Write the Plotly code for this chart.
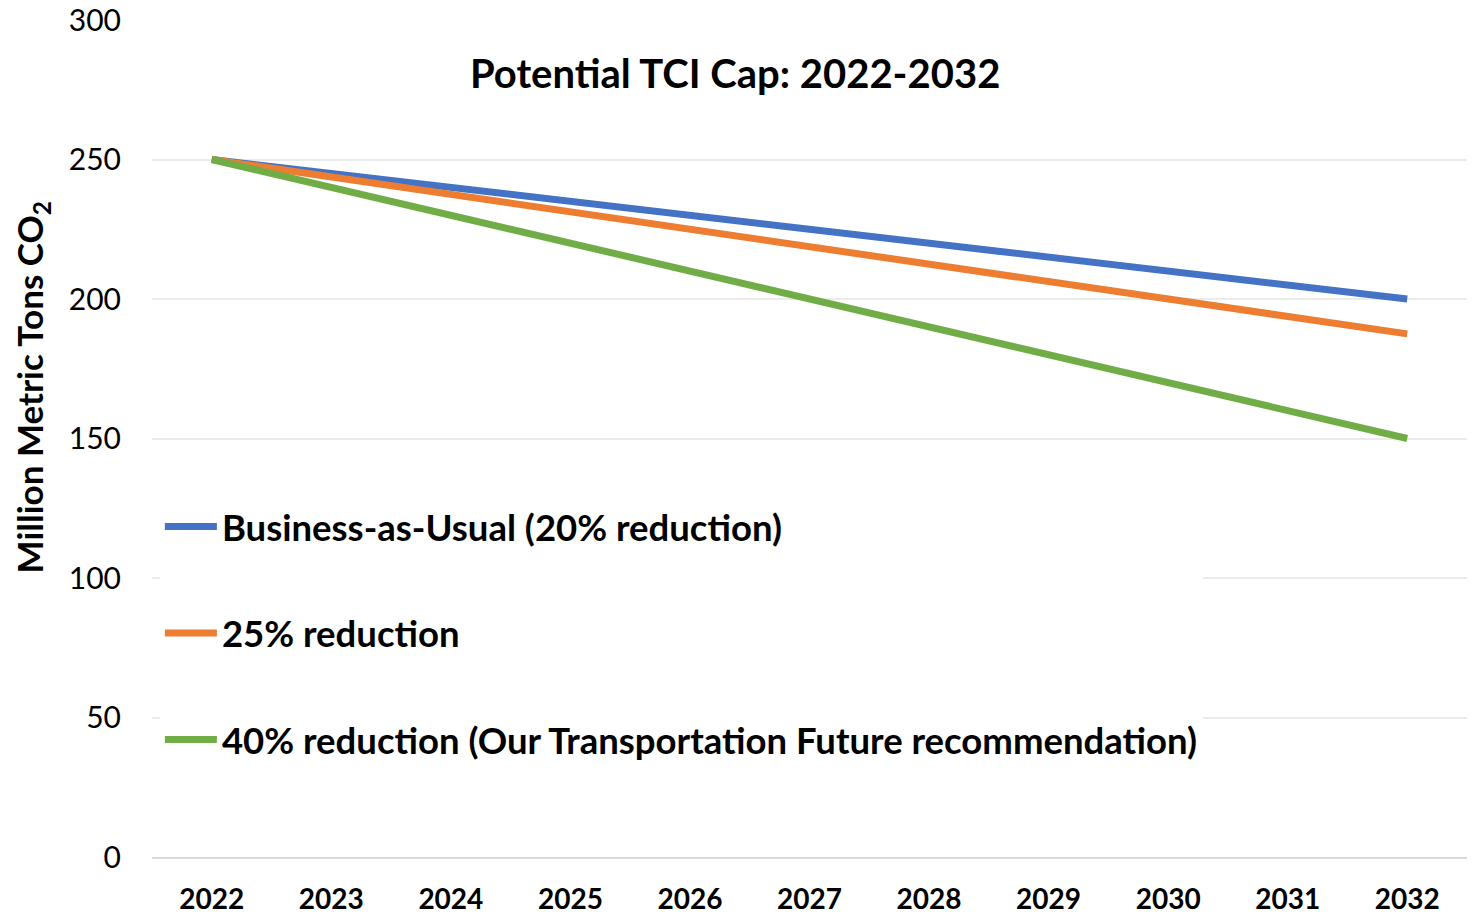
import plotly.graph_objects as go

years = [str(y) for y in range(2022, 2033)]
bau = [250, 245, 240, 235, 230, 225, 220, 215, 210, 205, 200]
red25 = [250, 243.75, 237.5, 231.25, 225, 218.75, 212.5, 206.25, 200, 193.75, 187.5]
red40 = [250, 240, 230, 220, 210, 200, 190, 180, 170, 160, 150]
names = ["Business-as-Usual (20% reduction)", "25% reduction",
         "40% reduction (Our Transportation Future recommendation)"]
colors = ["#4472C4", "#ED7D31", "#70AD47"]

FONT = "Lato"
fig = go.Figure()
for i, (vals, nm, c) in enumerate(zip([bau, red25, red40], names, colors)):
    fig.add_trace(go.Scatter(x=years, y=vals, mode="lines", name=nm,
                             legendgroup=f"g{i}",
                             line=dict(color=c, width=7)))

fig.update_layout(
    width=1476, height=915,
    margin=dict(l=152, r=9, t=20, b=58),
    plot_bgcolor="white", paper_bgcolor="white",
    font=dict(family=FONT, color="black"),
    showlegend=True,
    legend=dict(x=0.006, y=0.431, xanchor="left", yanchor="top",
                bgcolor="white", traceorder="grouped", tracegroupgap=56,
                itemwidth=52,
                font=dict(family=FONT, size=36.5, color="black", weight="bold")),
    xaxis=dict(type="category", range=[-0.5, 10.5], showgrid=False, zeroline=False,
               showline=True, linecolor="#d9d9d9", linewidth=2, automargin=False,
               ticks="", ticklabelstandoff=16,
               tickfont=dict(family=FONT, size=28, color="black", weight="bold")),
    yaxis=dict(range=[0, 300], dtick=50, showgrid=True, gridcolor="#ebebeb",
               gridwidth=2, zeroline=False, showline=False, ticks="", automargin=False,
               ticklabelstandoff=30,
               tickfont=dict(family=FONT, size=30, color="black")),
    annotations=[
        dict(text="<b>Potential TCI Cap: 2022-2032</b>", xref="paper", yref="paper",
             x=0.4433, y=0.9367, xanchor="center", yanchor="middle", showarrow=False,
             font=dict(family=FONT, size=40, color="black")),
        dict(text="<b>Million Metric Tons CO<sub>2</sub></b>", xref="paper", yref="paper",
             x=-0.0913, y=0.561, xanchor="center", yanchor="middle", showarrow=False,
             textangle=-90, font=dict(family=FONT, size=35, color="black")),
    ],
)
fig.write_html("out.html", config={"displayModeBar": False},
               post_script="document.body.style.margin='0';")
